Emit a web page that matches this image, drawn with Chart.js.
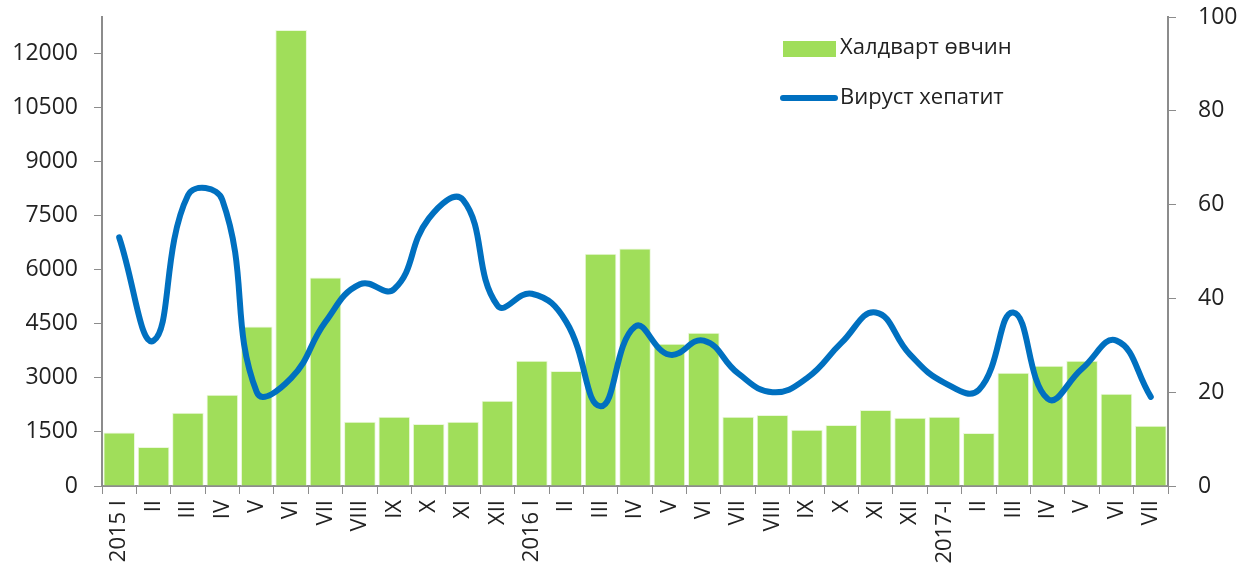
<!DOCTYPE html>
<html>
<head>
<meta charset="utf-8">
<script src="https://cdn.jsdelivr.net/npm/chart.js@4/dist/chart.umd.min.js"></script>
<style>
  html, body { margin: 0; padding: 0; background: #ffffff; }
  #wrap { width: 1250px; height: 574px; position: relative; }
</style>
</head>
<body>
<div id="wrap"><canvas id="chart"></canvas></div>
<script>
// Month labels (2015 I .. 2017 VII)
const months = ['2015 I', 'II', 'III', 'IV', 'V', 'VI', 'VII', 'VIII', 'IX', 'X', 'XI', 'XII',
    '2016 I', 'II', 'III', 'IV', 'V', 'VI', 'VII', 'VIII', 'IX', 'X', 'XI', 'XII',
    '2017-I', 'II', 'III', 'IV', 'V', 'VI', 'VII'];

// Infectious diseases (left axis)
const infectious = [1480, 1080, 2030, 2530, 4420, 12640, 5780, 1780, 1920, 1720, 1780, 2360,
    3470, 3190, 6440, 6580, 3940, 4250, 1920, 1970, 1560, 1690, 2110, 1890,
    1920, 1470, 3140, 3330, 3470, 2560, 1670];

// Viral hepatitis (right axis)
const hepatitis = [53, 31, 62, 61, 20, 23, 35, 43, 42, 57, 61, 38.5,
    41, 35, 17, 34, 28, 31, 24, 20, 23, 30.5, 37, 28,
    22, 20.5, 37, 18.6, 25, 31, 19];

// tick values
const leftTicks = [0, 1500, 3000, 4500, 6000, 7500, 9000, 10500, 12000];
const rightTicks = [0, 20, 40, 60, 80, 100];

const seriesNames = ['Халдварт өвчин', 'Вируст хепатит'];

const fontFamily = "'Open Sans', sans-serif";
const axisGrey = '#8c8c8c';
const textColor = '#222222';

// legend drawn inside the plot, top right
const legendPlugin = {
    id: 'customLegend',
    afterDraw(chart) {
        const ctx = chart.ctx;
        ctx.save();
        ctx.font = '22px ' + fontFamily;
        ctx.textBaseline = 'middle';
        // bar swatch
        ctx.fillStyle = '#a0de5a';
        ctx.fillRect(783, 41, 53, 16);
        ctx.fillStyle = textColor;
        ctx.fillText(seriesNames[0], 840, 48);
        // line swatch
        ctx.strokeStyle = '#0070c0';
        ctx.lineWidth = 6;
        ctx.lineCap = 'round';
        ctx.beginPath();
        ctx.moveTo(783, 98);
        ctx.lineTo(835, 98);
        ctx.stroke();
        ctx.fillText(seriesNames[1], 840, 98);
        ctx.restore();
    }
};

// vertical axes: fixed width, no extra room for the label overhang
function fitVertical(width) {
    return function (s) {
        s.width = width;
        s.paddingTop = 0;
        s.paddingBottom = 0;
    };
}

const ctx = document.getElementById('chart').getContext('2d');
new Chart(ctx, {
    type: 'bar',
    data: {
        labels: months,
        datasets: [{
            type: 'line',
            label: seriesNames[1],
            data: hepatitis,
            yAxisID: 'y1',
            borderColor: '#0070c0',
            borderWidth: 6,
            borderCapStyle: 'round',
            tension: 0.45,
            pointRadius: 0,
            order: 0
        }, {
            type: 'bar',
            label: seriesNames[0],
            data: infectious,
            yAxisID: 'y',
            backgroundColor: '#a0de5a',
            borderColor: 'rgba(235,248,220,1)',
            borderWidth: 1,
            barPercentage: 0.92,
            categoryPercentage: 1.0,
            order: 1
        }]
    },
    options: {
        responsive: true,
        maintainAspectRatio: false,
        animation: false,
        layout: { padding: { top: 17, right: 0, bottom: 0, left: 0 } },
        plugins: {
            legend: { display: false },
            tooltip: { enabled: false }
        },
        scales: {
            x: {
                offset: true,
                grid: { offset: true, drawOnChartArea: false, color: axisGrey, tickLength: 8 },
                border: { color: axisGrey, width: 2 },
                ticks: {
                    color: textColor,
                    font: { size: 22, family: fontFamily },
                    maxRotation: 90,
                    minRotation: 90,
                    autoSkip: false,
                    padding: 6
                },
                afterFit(s) { s.height = 88; }
            },
            y: {
                position: 'left',
                min: 0,
                max: 13000,
                grid: { drawOnChartArea: false, color: axisGrey, tickLength: 8 },
                border: { color: axisGrey, width: 2 },
                ticks: {
                    color: textColor,
                    font: { size: 23, family: fontFamily },
                    padding: 16,
                    callback: (v) => String(v)
                },
                afterBuildTicks(s) { s.ticks = leftTicks.map(v => ({ value: v })); },
                afterFit: fitVertical(102)
            },
            y1: {
                position: 'right',
                min: 0,
                max: 100,
                grid: { drawOnChartArea: false, color: axisGrey, tickLength: 8 },
                border: { color: axisGrey, width: 2 },
                ticks: {
                    color: textColor,
                    font: { size: 23, family: fontFamily },
                    padding: 22,
                    callback: (v) => String(v)
                },
                afterBuildTicks(s) { s.ticks = rightTicks.map(v => ({ value: v })); },
                afterFit: fitVertical(82)
            }
        }
    },
    plugins: [legendPlugin]
});
</script>
</body>
</html>
